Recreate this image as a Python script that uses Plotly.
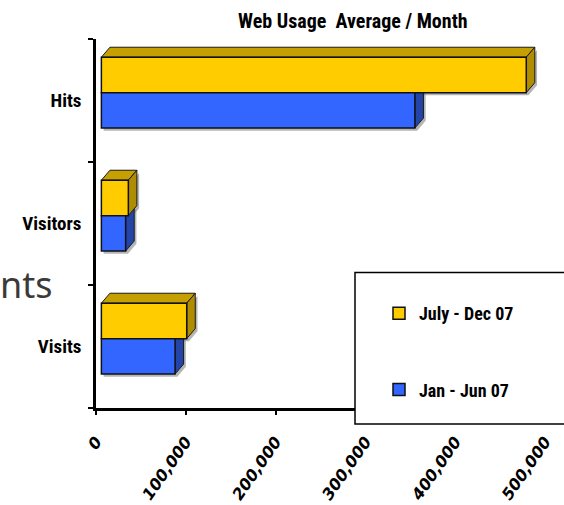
import plotly.graph_objects as go

# ---- data ----
categories = ["Visits", "Visitors", "Hits"]
series_names = ["July - Dec 07", "Jan - Jun 07"]
july_dec = [95000, 30000, 473000]
jan_jun = [82000, 27000, 349000]
x_tick_vals = [0, 100000, 200000, 300000, 400000, 500000]
x_tick_text = ["0", "100,000", "200,000", "300,000", "400,000", "500,000"]

# ---- style / geometry constants ----
W, H = 564, 505
ML, MR, MT, MB = 96, 0, 39, 97
PW, PH = W - ML - MR, H - MT - MB
XMAX = 521000
BASE = 6000          # front face starts slightly right of the axis (3D look)
DX = 9500            # depth in x data units
DY = 0.081           # depth in y (category) units
BAR_W = 0.288
OFF_TOP = 0.208      # center offset of the upper bar
OFF_BOT = -0.080     # center offset of the lower bar

YEL, YEL_TOP, YEL_SIDE = "#FFCC00", "#C6A000", "#B08C00"
BLU, BLU_TOP, BLU_SIDE = "#3366FF", "#2A50C0", "#2445A8"
NARROW = "Liberation Sans Narrow, Arial Narrow, Roboto Condensed, Roboto, Liberation Sans, Arial, sans-serif"


def px_x(p):
    return (p - ML) / PW


def px_y(p):
    return 1 - (p - MT) / PH


def poly(pts):
    return "M " + " L ".join(f"{a},{b}" for a, b in pts) + " Z"


def top_face(v, yc):
    y1 = yc + BAR_W / 2
    x0, x1 = BASE, BASE + v
    return poly([(x0, y1), (x0 + DX, y1 + DY), (x1 + DX, y1 + DY), (x1, y1)])


def side_face(v, yc):
    y0, y1 = yc - BAR_W / 2, yc + BAR_W / 2
    x1 = BASE + v
    return poly([(x1, y0), (x1, y1), (x1 + DX, y1 + DY), (x1 + DX, y0 + DY)])


def shadow_path(v, yc):
    y0, y1 = yc - BAR_W / 2, yc + BAR_W / 2
    sx, sy = 2500, -0.022
    x0, x1 = BASE + sx, BASE + v + sx
    return poly([(x0, y0 + sy), (x1, y0 + sy), (x1 + DX, y0 + DY + sy),
                 (x1 + DX, y1 + DY + sy), (x1, y1 + sy), (x0, y1 + sy)])


fig = go.Figure()
shapes = []

# shadows
for vals, off in ((jan_jun, OFF_BOT), (july_dec, OFF_TOP)):
    for i, v in enumerate(vals):
        shapes.append(dict(type="path", xref="x", yref="y", layer="below",
                           path=shadow_path(v, i + off),
                           fillcolor="rgba(120,120,120,0.55)", line=dict(width=0)))

# depth faces (top + side)
for vals, off, ctop, cside in ((jan_jun, OFF_BOT, BLU_TOP, BLU_SIDE), (july_dec, OFF_TOP, YEL_TOP, YEL_SIDE)):
    for i, v in enumerate(vals):
        shapes.append(dict(type="path", xref="x", yref="y", layer="below",
                           path=top_face(v, i + off),
                           fillcolor=ctop, line=dict(color="#1a1a1a", width=1)))
        shapes.append(dict(type="path", xref="x", yref="y", layer="below",
                           path=side_face(v, i + off),
                           fillcolor=cside, line=dict(color="#1a1a1a", width=1)))

# front faces
fig.add_trace(go.Bar(
    name=series_names[0], orientation="h",
    x=july_dec, y=[i + OFF_TOP for i in range(len(categories))], base=BASE,
    width=BAR_W, marker=dict(color=YEL, line=dict(color="#111111", width=1.5)),
    legendgroup="a", legendrank=1,
))
fig.add_trace(go.Bar(
    name=series_names[1], orientation="h",
    x=jan_jun, y=[i + OFF_BOT for i in range(len(categories))], base=BASE,
    width=BAR_W, marker=dict(color=BLU, line=dict(color="#111111", width=1.5)),
    legendgroup="b", legendrank=2,
))

# legend box
shapes.append(dict(type="rect", xref="paper", yref="paper", layer="above",
                   x0=px_x(355), x1=px_x(620), y0=px_y(424), y1=px_y(272.5),
                   fillcolor="white", line=dict(color="black", width=1.5)))

annotations = [
    dict(text="Web Usage  Average / Month", xref="paper", yref="paper",
         x=px_x(353), y=px_y(21), xanchor="center", yanchor="middle", showarrow=False,
         font=dict(family=NARROW, size=20, color="black", weight="bold")),
    dict(text="nts", xref="paper", yref="paper", x=px_x(-2), y=px_y(284),
         xanchor="left", yanchor="middle", showarrow=False,
         font=dict(family="Noto Sans, Open Sans, sans-serif", size=36, color="#3a3a3a")),
]

fig.update_layout(
    width=W, height=H,
    margin=dict(l=ML, r=MR, t=MT, b=MB, pad=0),
    paper_bgcolor="white", plot_bgcolor="white",
    barmode="overlay",
    shapes=shapes, annotations=annotations,
    showlegend=True,
    legend=dict(x=px_x(379), y=px_y(295), xanchor="left", yanchor="top",
                bgcolor="rgba(0,0,0,0)", borderwidth=0,
                font=dict(family=NARROW, size=18, color="black", weight="bold"),
                tracegroupgap=50, traceorder="grouped", itemwidth=30),
    xaxis=dict(range=[0, XMAX], showgrid=False, zeroline=False, automargin=False,
               showline=True, linecolor="black", linewidth=2.5,
               tickmode="array", tickvals=x_tick_vals, ticktext=x_tick_text,
               ticks="outside", ticklen=4, tickwidth=1.5, tickcolor="black",
               tickangle=-55, ticklabelstandoff=11,
               tickfont=dict(family="DejaVu Sans, Liberation Sans, Arial, sans-serif", size=16,
                             color="black", weight="bold", style="italic")),
    yaxis=dict(range=[-0.5, 2.5], showgrid=False, zeroline=False, automargin=False,
               showline=True, linecolor="black", linewidth=2.5,
               tickmode="array", tickvals=list(range(len(categories))),
               ticktext=categories,
               ticks="", ticklabelstandoff=8,
               tickfont=dict(family=NARROW, size=19, color="black", weight="bold"),
               minor=dict(tickmode="linear", tick0=0.5, dtick=1, ticks="outside",
                          ticklen=5, tickwidth=1.5, tickcolor="black", showgrid=False)),
)

fig.write_html("out.html", config={"displayModeBar": False},
               post_script="document.body.style.margin='0';document.body.style.overflow='hidden';")
